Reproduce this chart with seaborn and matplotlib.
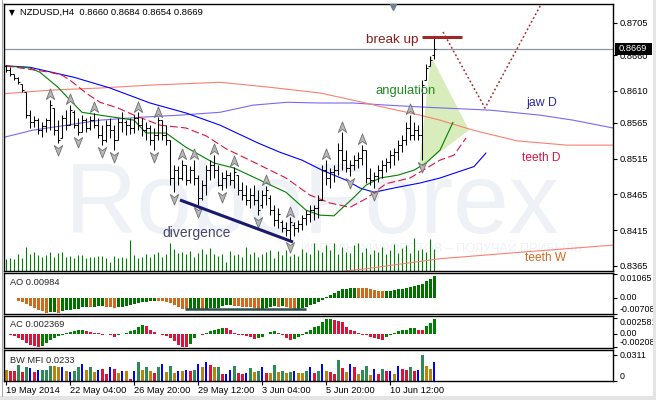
import matplotlib
matplotlib.use("Agg")
import numpy as np
import matplotlib.pyplot as plt
import seaborn as sns
from matplotlib.path import Path
from matplotlib.patches import Polygon, Rectangle
from matplotlib.lines import Line2D

# ---------------- data ----------------
symbol_title = "NZDUSD,H4  0.8660 0.8684 0.8654 0.8669"

open_ = [
0.8645, 0.8639, 0.8634, 0.8628, 0.8620, 0.8608, 0.8576, 0.8566, 0.8569, 0.8555,
0.8561, 0.8569, 0.8586, 0.8555, 0.8544, 0.8572, 0.8562, 0.8580, 0.8562, 0.8552,
0.8569, 0.8558, 0.8569, 0.8562, 0.8548, 0.8541, 0.8562, 0.8555, 0.8541, 0.8566,
0.8566, 0.8562, 0.8558, 0.8572, 0.8562, 0.8555, 0.8558, 0.8541, 0.8548, 0.8569,
0.8548, 0.8541, 0.8488, 0.8499, 0.8488, 0.8506, 0.8485, 0.8499, 0.8488, 0.8460,
0.8478, 0.8499, 0.8506, 0.8499, 0.8478, 0.8488, 0.8492, 0.8485, 0.8492, 0.8471,
0.8464, 0.8457, 0.8464, 0.8457, 0.8450, 0.8464, 0.8460, 0.8443, 0.8429, 0.8426,
0.8418, 0.8415, 0.8422, 0.8418, 0.8424, 0.8432, 0.8438, 0.8443, 0.8446, 0.8457,
0.8499, 0.8488, 0.8496, 0.8499, 0.8527, 0.8513, 0.8502, 0.8506, 0.8513, 0.8516,
0.8527, 0.8488, 0.8485, 0.8491, 0.8499, 0.8506, 0.8510, 0.8520, 0.8524, 0.8534,
0.8541, 0.8558, 0.8548, 0.8555, 0.8548, 0.8625, 0.8645, 0.8660]
high = [
0.8646, 0.8643, 0.8634, 0.8629, 0.8620, 0.8608, 0.8583, 0.8575, 0.8572, 0.8566,
0.8572, 0.8597, 0.8586, 0.8569, 0.8576, 0.8583, 0.8590, 0.8583, 0.8572, 0.8576,
0.8572, 0.8575, 0.8579, 0.8572, 0.8562, 0.8569, 0.8572, 0.8562, 0.8572, 0.8580,
0.8569, 0.8572, 0.8576, 0.8580, 0.8572, 0.8566, 0.8562, 0.8558, 0.8573, 0.8569,
0.8562, 0.8541, 0.8506, 0.8505, 0.8513, 0.8506, 0.8505, 0.8513, 0.8492, 0.8485,
0.8506, 0.8513, 0.8520, 0.8506, 0.8496, 0.8499, 0.8496, 0.8504, 0.8492, 0.8482,
0.8478, 0.8474, 0.8478, 0.8471, 0.8471, 0.8477, 0.8464, 0.8450, 0.8446, 0.8429,
0.8426, 0.8433, 0.8426, 0.8429, 0.8436, 0.8443, 0.8450, 0.8450, 0.8464, 0.8506,
0.8513, 0.8502, 0.8506, 0.8537, 0.8552, 0.8527, 0.8513, 0.8520, 0.8524, 0.8534,
0.8527, 0.8502, 0.8496, 0.8506, 0.8513, 0.8516, 0.8527, 0.8530, 0.8541, 0.8548,
0.8566, 0.8576, 0.8566, 0.8562, 0.8625, 0.8648, 0.8659, 0.8684]
low = [
0.8636, 0.8631, 0.8625, 0.8620, 0.8608, 0.8572, 0.8558, 0.8559, 0.8550, 0.8545,
0.8552, 0.8555, 0.8548, 0.8537, 0.8544, 0.8555, 0.8562, 0.8558, 0.8548, 0.8552,
0.8552, 0.8555, 0.8558, 0.8544, 0.8534, 0.8538, 0.8544, 0.8527, 0.8541, 0.8552,
0.8548, 0.8550, 0.8551, 0.8555, 0.8547, 0.8541, 0.8534, 0.8527, 0.8541, 0.8541,
0.8534, 0.8478, 0.8468, 0.8478, 0.8485, 0.8478, 0.8481, 0.8478, 0.8450, 0.8457,
0.8464, 0.8485, 0.8488, 0.8477, 0.8471, 0.8474, 0.8478, 0.8474, 0.8464, 0.8457,
0.8450, 0.8446, 0.8450, 0.8436, 0.8446, 0.8450, 0.8436, 0.8421, 0.8418, 0.8412,
0.8407, 0.8401, 0.8407, 0.8412, 0.8415, 0.8422, 0.8426, 0.8429, 0.8432, 0.8457,
0.8478, 0.8474, 0.8482, 0.8492, 0.8499, 0.8496, 0.8491, 0.8499, 0.8502, 0.8506,
0.8481, 0.8478, 0.8474, 0.8482, 0.8488, 0.8496, 0.8502, 0.8506, 0.8513, 0.8524,
0.8534, 0.8541, 0.8541, 0.8541, 0.8513, 0.8625, 0.8645, 0.8654]
close_ = [
0.8639, 0.8634, 0.8628, 0.8622, 0.8611, 0.8576, 0.8566, 0.8569, 0.8555, 0.8561,
0.8569, 0.8590, 0.8555, 0.8541, 0.8572, 0.8562, 0.8583, 0.8562, 0.8552, 0.8569,
0.8558, 0.8569, 0.8562, 0.8548, 0.8541, 0.8562, 0.8555, 0.8541, 0.8566, 0.8572,
0.8562, 0.8558, 0.8572, 0.8562, 0.8555, 0.8558, 0.8541, 0.8548, 0.8569, 0.8548,
0.8541, 0.8488, 0.8499, 0.8488, 0.8506, 0.8485, 0.8499, 0.8488, 0.8460, 0.8478,
0.8499, 0.8506, 0.8499, 0.8478, 0.8488, 0.8492, 0.8485, 0.8496, 0.8471, 0.8464,
0.8457, 0.8464, 0.8457, 0.8443, 0.8464, 0.8471, 0.8443, 0.8429, 0.8438, 0.8418,
0.8415, 0.8426, 0.8418, 0.8424, 0.8432, 0.8438, 0.8443, 0.8446, 0.8457, 0.8499,
0.8488, 0.8496, 0.8499, 0.8527, 0.8513, 0.8502, 0.8506, 0.8513, 0.8516, 0.8527,
0.8488, 0.8485, 0.8491, 0.8499, 0.8506, 0.8510, 0.8520, 0.8524, 0.8534, 0.8541,
0.8558, 0.8548, 0.8555, 0.8548, 0.8618, 0.8642, 0.8653, 0.8669]

volume = [12, 13, 12, 17, 13, 24, 17, 19, 16, 14, 16, 19, 14, 18, 19, 14, 15, 13, 16, 16,
          13, 14, 14, 15, 15, 13, 9, 15, 13, 14, 13, 31, 16, 13, 14, 17, 14, 17, 19, 14,
          17, 28, 22, 18, 19, 17, 20, 14, 18, 22, 17, 23, 17, 15,
          17, 9, 20, 16, 17, 14, 24, 17, 19, 14, 17, 19, 21, 13, 20, 16, 21, 15, 17, 15,
          22, 19, 17, 28, 21, 19, 26, 21, 28, 17, 24, 19, 18, 26, 28, 19, 23, 17, 21, 19,
          24, 17, 21, 27, 18, 23, 26, 18, 33, 21, 22, 19, 32, 22]

up_fractals = [11, 16, 22, 33, 38, 44, 47, 52, 57, 65, 71, 80, 84, 89, 101]
down_fractals = [13, 18, 24, 27, 37, 42, 48, 54, 63, 71, 86, 92, 104]

# Alligator H4 (bar index, price)
jaw_h4_x = [0, 6, 17, 26, 36, 45, 53.5, 63, 68.5, 74, 79, 85, 88.5, 92, 97, 103.5, 108.5, 117, 120]
jaw_h4_p = [0.8645, 0.8643, 0.8629, 0.8614, 0.8593, 0.8579, 0.8562, 0.8537, 0.8524, 0.8513,
            0.8499, 0.8485, 0.8474, 0.8468, 0.8474, 0.8481, 0.8488, 0.8504, 0.8523]
teeth_h4_x = [0, 11, 14, 16, 20, 23.5, 28, 32, 38.5, 45, 50, 55, 62, 70, 76, 81, 86, 90, 95,
              101, 108.5, 112, 115]
teeth_h4_p = [0.8645, 0.8636, 0.8632, 0.8625, 0.8607, 0.8594, 0.8586, 0.8576, 0.8562, 0.8558,
              0.8547, 0.8529, 0.8510, 0.8488, 0.8464, 0.8453, 0.8447, 0.8459, 0.8480, 0.8488,
              0.8513, 0.8520, 0.8544]
lips_h4_x = [0, 6, 8.5, 13, 16, 19, 23.5, 32, 35, 40, 45, 48.5, 52, 57, 63.5, 70, 75, 78.5, 82,
             83.5, 87, 90, 93.5, 98, 102, 105, 108.5, 111.75]
lips_h4_p = [0.8645, 0.8642, 0.8636, 0.8615, 0.8597, 0.8580, 0.8576, 0.8569, 0.8551, 0.8551,
             0.8531, 0.8520, 0.8509, 0.8502, 0.8485, 0.8468, 0.8443, 0.8436, 0.8435, 0.8443,
             0.8461, 0.8478, 0.8488, 0.8492, 0.8499, 0.8509, 0.8527, 0.8566]
# Daily / weekly alligator lines
jaw_d_x = [-0.5, 6.75, 15.25, 23.5, 33.5, 43.5, 53.5, 61.75, 70.25, 78.5, 86.75, 95.25, 105.25,
           121, 133.5, 141.75, 151.75]
jaw_d_p = [0.8545, 0.8555, 0.8562, 0.8569, 0.8573, 0.8576, 0.8580, 0.8590, 0.8594, 0.8593,
           0.8593, 0.8590, 0.8587, 0.8583, 0.8576, 0.8569, 0.8558]
teeth_d_x = [-0.5, 11, 23.5, 36, 53.5, 66, 78.5, 86.75, 95.25, 103.5, 108.5, 116.75, 127.75,
             140.25, 151.75]
teeth_d_p = [0.8606, 0.8611, 0.8614, 0.8618, 0.8622, 0.8615, 0.8607, 0.8597, 0.8586, 0.8576,
             0.8569, 0.8555, 0.8540, 0.8534, 0.8534]
teeth_w_x = [83.5, 90, 108.5, 128.5, 151.75]
teeth_w_p = [0.8357, 0.8361, 0.8375, 0.8384, 0.8394]

ao = [
 0.0001, 0.0002, -0.0002, -0.0012, -0.0018, -0.0027, -0.0036, -0.0045, -0.0054, -0.0060,
 -0.0067, -0.0063, -0.0061, -0.0066, -0.0058, -0.0054, -0.0052, -0.0050, -0.0047, -0.0042,
 -0.0040, -0.0041, -0.0039, -0.0038, -0.0037, -0.0039, -0.0041, -0.0043, -0.0042, -0.0039,
 -0.0036, -0.0033, -0.0027, -0.0021, -0.0018, -0.0016, -0.0015, -0.0013, -0.0014, -0.0015,
 -0.0017, -0.0021, -0.0030, -0.0039, -0.0048, -0.0051, -0.0049, -0.0048, -0.0047, -0.0048,
 -0.0047, -0.0046, -0.0045, -0.0044, -0.0036, -0.0033, -0.0032, -0.0036, -0.0037, -0.0039,
 -0.0040, -0.0042, -0.0045, -0.0051, -0.0048, -0.0045, -0.0039, -0.0037, -0.0040, -0.0038,
 -0.0041, -0.0045, -0.0050, -0.0048, -0.0045, -0.0039, -0.0033, -0.0027, -0.0018, -0.0010,
 0.0004, 0.0015, 0.0022, 0.0031, 0.0040, 0.0041, 0.0045, 0.0046, 0.0045, 0.0044,
 0.0043, 0.0040, 0.0036, 0.0032, 0.0031, 0.0032, 0.0033, 0.0036, 0.0040, 0.0041,
 0.0045, 0.0049, 0.0053, 0.0059, 0.0064, 0.0074, 0.0083, 0.00984]
ac = [
 0.0000, -0.0001, -0.0003, -0.0006, -0.0010, -0.0014, -0.0017, -0.0019, -0.0020, -0.0019,
 -0.0014, -0.0010, -0.0006, -0.0003, -0.0001, 0.0002, 0.0003, 0.0004, 0.0006, 0.0007,
 0.0005, 0.0003, 0.0002, 0.0001, -0.0001, 0.0000, -0.0002, -0.0004, -0.0002, 0.0000,
 0.0002, 0.0004, 0.0007, 0.0011, 0.0014, 0.0013, 0.0007, 0.0003, 0.0000, -0.0002,
 -0.0003, -0.0006, -0.0011, -0.0017, -0.0020, -0.0021, -0.0015, -0.0007, 0.0000, -0.0001,
 0.0001, 0.0004, 0.0006, 0.0008, 0.0010, 0.0009, 0.0006, 0.0002, -0.0001, -0.0002,
 -0.0003, -0.0005, -0.0008, -0.0007, -0.0004, 0.0000, 0.0003, 0.0004, 0.0002, -0.0002,
 -0.0007, -0.0010, -0.0008, -0.0004, -0.0001, 0.0003, 0.0007, 0.0011, 0.0013, 0.0019,
 0.0023, 0.0024, 0.0022, 0.0021, 0.0019, 0.0011, 0.0006, 0.0004, 0.0002, -0.0001,
 -0.0002, -0.0005, -0.0006, -0.0008, -0.0009, -0.0005, -0.0001, 0.0002, 0.0004, 0.0006,
 0.0007, 0.0009, 0.00095, 0.0007, 0.0006, 0.0013, 0.0018, 0.002369]
mfi = [
0.0132, 0.0120, 0.0120, 0.0192, 0.0108, 0.0168, 0.0156, 0.0108, 0.0132, 0.0132,
0.0132, 0.0180, 0.0180, 0.0168, 0.0168, 0.0120, 0.0108, 0.0120, 0.0168, 0.0204,
0.0132, 0.0168, 0.0108, 0.0132, 0.0144, 0.0084, 0.0168, 0.0144, 0.0096, 0.0120,
0.0120, 0.0024, 0.0120, 0.0228, 0.0132, 0.0168, 0.0120, 0.0096, 0.0168, 0.0204,
0.0108, 0.0180, 0.0096, 0.0120, 0.0120, 0.0132, 0.0120, 0.0132, 0.0204, 0.0168,
0.0228, 0.0192, 0.0168, 0.0168, 0.0084, 0.0084, 0.0132, 0.0180, 0.0096, 0.0084,
0.0096, 0.0156, 0.0108, 0.0120, 0.0168, 0.0096, 0.0096, 0.0192, 0.0108, 0.0120,
0.0096, 0.0108, 0.0120, 0.0096, 0.0096, 0.0120, 0.0168, 0.0096, 0.0120, 0.0204,
0.0120, 0.0108, 0.0084, 0.0252, 0.0156, 0.0108, 0.0204, 0.0168, 0.0084, 0.0132,
0.0180, 0.0072, 0.0144, 0.0084, 0.0144, 0.0120, 0.0120, 0.0084, 0.0180, 0.0144,
0.0132, 0.0168, 0.0120, 0.0132, 0.0311, 0.0180, 0.0144, 0.0233]
# BW MFI zones: g = green, b = fade, f = fake, s = squat
mfi_zone = list("bssgsgfsfg" "ggbbfbfggf" "bgbfssfsbf" "bsfgbgbsgf" "bgbfbfsgfb"
                "fsbgsffgss" "fgbgfsbgbg" "bgfbbgfsgf" "bssgsbfsbg" "gbfsgsfbfs" "sgsfgbbf")

price_ticks = [0.8705, 0.8660, 0.8610, 0.8565, 0.8515, 0.8465, 0.8415, 0.8365]
ao_ticks = [0.01065, 0.0, -0.00708]
ao_tick_labels = ["0.01065", "0.00", "-0.00708"]
ac_ticks = [0.002581, 0.0, -0.00208]
ac_tick_labels = ["0.002581", "0.00", "-0.00208"]
mfi_ticks = [0.0311, 0.0]
mfi_tick_labels = ["0.0311", "0"]
date_pos = [0, 16, 32, 48, 64, 80, 96]
date_labels = ["19 May 2014", "22 May 04:00", "26 May 20:00", "29 May 12:00",
               "3 Jun 04:00", "5 Jun 20:00", "10 Jun 12:00"]

# drawn analysis objects (bar index, price)
breakup_x, breakup_p = [103.9, 113.9], [0.86858, 0.86858]
forecast_x, forecast_p = [109.25, 119.75, 134.75], [0.86924, 0.85860, 0.87414]
angle_x, angle_p = [106.25, 115.75, 103.25], [0.86588, 0.8555, 0.8502]
div_x, div_p = [43.5, 71.75], [0.84572, 0.83984]
ao_div_x, ao_div_v = [44.75, 75], [-0.0049, -0.0049]

assert len(open_) == len(high) == len(low) == len(close_) == len(volume) == len(ao) == len(ac) == len(mfi) == len(mfi_zone)

# ---------------- style ----------------
sns.set_theme(style="white")
plt.rcParams["font.family"] = ["Liberation Sans", "DejaVu Sans"]
plt.rcParams["axes.edgecolor"] = "black"
plt.rcParams["axes.linewidth"] = 1.0

W, H = 656, 400
fig = plt.figure(figsize=(W / 100, H / 100), dpi=100)
fig.patch.set_facecolor("white")


def rect(x0, y0, x1, y1):
    return [x0 / W, 1 - y1 / H, (x1 - x0) / W, (y1 - y0) / H]


ax = fig.add_axes(rect(4, 4, 613, 271))
ax_ao = fig.add_axes(rect(4, 273, 613, 314))
ax_ac = fig.add_axes(rect(4, 316, 613, 348))
ax_mfi = fig.add_axes(rect(4, 350, 613, 381))

n = len(close_)
idx = np.arange(n)
for a in (ax, ax_ao, ax_ac, ax_mfi):
    a.set_xlim(-0.5, 151.75)
    a.set_facecolor("white")
    for s in a.spines.values():
        s.set_color("black")
        s.set_linewidth(1.0)
    a.yaxis.tick_right()
    a.tick_params(axis="y", direction="out", length=3, width=0.8, pad=2,
                  labelsize=6.4, colors="black", left=False, right=True)
    a.tick_params(axis="x", bottom=False, labelbottom=False)
    a.grid(False)
ax.tick_params(axis="y", labelsize=6.7)

# ---------------- main panel ----------------
ax.set_ylim(0.83578, 0.87316)
ax.set_yticks(price_ticks)
ax.set_yticklabels([f"{t:.4f}" for t in price_ticks])

ax.text(0.5057, 0.1423, "RoboForex", transform=ax.transAxes, fontsize=72,
        color="#eef1f5", ha="center", va="baseline", zorder=0.2)
ax.text(0.7176, 0.0824, "ИСПОЛЬЗУЙ РОБОТОВ – ПОЛУЧАЙ ПРИБЫЛЬ", transform=ax.transAxes,
        fontsize=9, color="#eef1f5", ha="center", va="center", zorder=0.2)

ax.add_patch(Polygon(list(zip(angle_x, angle_p)), closed=True, fc="#d9ecbc",
                     ec="none", zorder=0.8))

ax.vlines(idx, 0, np.array(volume) / 267.0, transform=ax.get_xaxis_transform(),
          color="#008000", lw=0.8, zorder=1)

sns.lineplot(x=jaw_d_x, y=jaw_d_p, ax=ax, color="#7b68ee", lw=0.8, estimator=None,
             sort=False, legend=False, zorder=1.5)
sns.lineplot(x=teeth_d_x, y=teeth_d_p, ax=ax, color="#fa8072", lw=0.8, estimator=None,
             sort=False, legend=False, zorder=1.5)
sns.lineplot(x=teeth_w_x, y=teeth_w_p, ax=ax, color="#fa8072", lw=0.8, estimator=None,
             sort=False, legend=False, zorder=1.5)
sns.lineplot(x=jaw_h4_x, y=jaw_h4_p, ax=ax, color="#0000ff", lw=0.8, estimator=None,
             sort=False, legend=False, zorder=2)
sns.lineplot(x=lips_h4_x, y=lips_h4_p, ax=ax, color="#008000", lw=0.8, estimator=None,
             sort=False, legend=False, zorder=2)
ax.plot(teeth_h4_x, teeth_h4_p, color="#dc143c", lw=0.8, ls=(0, (7, 3)), zorder=2)

ax.axhline(close_[-1], color="#8a96a0", lw=0.9, zorder=2.2)

ax.vlines(idx, low, high, color="black", lw=0.75, zorder=3)
ax.hlines(open_, idx - 0.45, idx, color="black", lw=0.75, zorder=3)
ax.hlines(close_, idx, idx + 0.45, color="black", lw=0.75, zorder=3)

arrow_up = Path([(0, 1), (0.75, -0.9), (0, -0.35), (-0.75, -0.9), (0, 1)],
                [Path.MOVETO, Path.LINETO, Path.LINETO, Path.LINETO, Path.CLOSEPOLY])
arrow_dn = Path([(0, -1), (0.75, 0.9), (0, 0.35), (-0.75, 0.9), (0, -1)],
                [Path.MOVETO, Path.LINETO, Path.LINETO, Path.LINETO, Path.CLOSEPOLY])
hi = np.array(high)
lo = np.array(low)
ax.plot(up_fractals, hi[up_fractals] + 0.0008, ls="", marker=arrow_up, ms=8,
        mfc="#b8b8b8", mec="#6f6f6f", mew=0.6, zorder=3.5)
ax.plot(down_fractals, lo[down_fractals] - 0.0010, ls="", marker=arrow_dn, ms=8,
        mfc="#b8b8b8", mec="#6f6f6f", mew=0.6, zorder=3.5)

ax.plot(breakup_x, breakup_p, color="#a02828", lw=2.2, solid_capstyle="butt", zorder=4)
ax.plot(forecast_x, forecast_p, color="#a52a2a", lw=1.1, ls=(0, (1.2, 1.6)), zorder=4)
ax.plot(div_x, div_p, color="#191970", lw=2.2, solid_capstyle="butt", zorder=4)

ax.text(103.25, 0.86812, "break up", color="#8b1a1a", fontsize=9.7, ha="right", va="center", zorder=5)
ax.text(100, 0.86098, "angulation", color="#228b22", fontsize=9.4, ha="center", va="center", zorder=5)
ax.text(133.9, 0.85930, "jaw D", color="#2a2aa0", fontsize=8.8, ha="center", va="center", zorder=5)
ax.text(133.75, 0.85160, "teeth D", color="#dc143c", fontsize=8.6, ha="center", va="center", zorder=5)
ax.text(134.9, 0.83760, "teeth W", color="#d2691e", fontsize=8.6, ha="center", va="center", zorder=5)
ax.text(47.75, 0.84103, "divergence", color="#45456a", fontsize=10, ha="center", va="center", zorder=5)

ax.plot([96.75], [0.87274], marker="v", ms=5, color="#708090", clip_on=False, zorder=5)
ax.set_xlabel("")
ax.set_ylabel("")


def set_ticks(a, ticks, labels, vas):
    a.set_yticks(ticks)
    a.set_yticklabels(labels)
    for t, va in zip(a.get_yticklabels(), vas):
        t.set_va(va)


# ---------------- AO ----------------
ao_arr = np.array(ao)
ao_col = ["#007000" if (i == 0 or ao_arr[i] > ao_arr[i - 1]) else "#d2691e" for i in range(n)]
ax_ao.bar(idx, ao_arr, width=0.75, color=ao_col, lw=0)
ax_ao.plot(ao_div_x, ao_div_v, color="#2f4f4f", lw=1.8, solid_capstyle="butt")
ax_ao.set_ylim(-0.00716, 0.01118)
set_ticks(ax_ao, ao_ticks, ao_tick_labels, ["top", "center", "bottom"])

# ---------------- AC ----------------
ac_arr = np.array(ac)
ac_col = ["#008000" if (i == 0 or ac_arr[i] > ac_arr[i - 1]) else "#dc143c" for i in range(n)]
ax_ac.bar(idx, ac_arr, width=0.75, color=ac_col, lw=0)
ax_ac.set_ylim(-0.00221, 0.00284)
set_ticks(ax_ac, ac_ticks, ac_tick_labels, ["top", "center", "bottom"])

# ---------------- BW MFI ----------------
zone_col = {"g": "#2e8b57", "b": "#b8860b", "f": "#0000ff", "s": "#dc143c"}
ax_mfi.bar(idx, mfi, width=[0.3 if z == "f" else 0.75 for z in mfi_zone],
           color=[zone_col[z] for z in mfi_zone], lw=0)
ax_mfi.set_ylim(0, 0.0372)
set_ticks(ax_mfi, mfi_ticks, mfi_tick_labels, ["center", "bottom"])
ax_mfi.set_xticks(date_pos)
ax_mfi.set_xticklabels(date_labels, ha="left")
ax_mfi.tick_params(axis="x", bottom=True, labelbottom=True, direction="out", length=3,
                   width=0.8, pad=0.5, labelsize=6.7, colors="black")

# ---------------- texts / frame ----------------
fig.text(9 / W, 1 - 12.5 / H, "▼", fontsize=5.5, family="DejaVu Sans", va="center", color="black")
fig.text(20 / W, 1 - 12.5 / H, symbol_title, fontsize=6.8, va="center", color="black")
fig.text(10 / W, 1 - 282.7 / H, f"AO {ao[-1]:.5f}", fontsize=6.7, va="center")
fig.text(10 / W, 1 - 324.7 / H, f"AC {ac[-1]:.6f}", fontsize=6.7, va="center")
fig.text(10 / W, 1 - 360.3 / H, f"BW MFI {mfi[-1]:.4f}", fontsize=6.7, va="center")

disp = ax.transData.transform((0, close_[-1]))
yfrac = disp[1] / fig.bbox.height
fig.add_artist(Rectangle((615 / W, yfrac - 6 / H), 37 / W, 12 / H, transform=fig.transFigure,
                         fc="black", ec="none", zorder=5))
fig.text(619 / W, yfrac, f"{close_[-1]:.4f}", color="white", fontsize=6.7, va="center", zorder=6)

fig.add_artist(Rectangle((653 / W, 0), 3 / W, 1, transform=fig.transFigure, fc="#e4e4e4", ec="none"))
fig.add_artist(Rectangle((0, 0), 1, 4 / H, transform=fig.transFigure, fc="#e4e4e4", ec="none"))
fig.add_artist(Line2D([2.2 / W, 2.2 / W], [4 / H, 1], transform=fig.transFigure, color="#a8a8a8", lw=0.8))

fig.savefig("out.png", dpi=100)
